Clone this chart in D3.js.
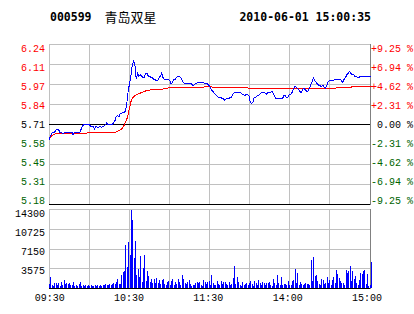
<!DOCTYPE html>
<html><head><meta charset="utf-8">
<script src="https://cdn.jsdelivr.net/npm/d3@7"></script>
<style>
html,body{margin:0;padding:0;background:#fff;}
svg{display:block;}
</style></head><body>
<svg id="c" width="414" height="314"></svg>
<script>
const stockCode = "000599";
const stockName = "青岛双星";
const timestamp = "2010-06-01 15:00:35";
const prevClose = 5.71;
const priceTicks = ["6.24","6.11","5.97","5.84","5.71","5.58","5.45","5.31","5.18"];
const pctTicks = ["+9.25 %","+6.94 %","+4.62 %","+2.31 %"," 0.00 %","-2.31 %","-4.62 %","-6.94 %","-9.25 %"];
const volTicks = [14300, 10725, 7150, 3575];
const timeLabels = ["09:30","10:30","11:30","14:00","15:00"];
const timeLabelMinutes = [0, 60, 120, 180, 240];

const price = [
5.61,5.63,5.65,5.66,5.66,5.67,5.68,5.68,5.66,5.66,
5.65,5.65,5.66,5.66,5.66,5.66,5.66,5.66,5.64,5.66,
5.66,5.66,5.66,5.66,5.68,5.70,5.71,5.71,5.71,5.71,
5.71,5.70,5.70,5.70,5.68,5.70,5.69,5.69,5.70,5.69,
5.70,5.70,5.71,5.72,5.71,5.71,5.71,5.71,5.72,5.73,
5.76,5.77,5.76,5.78,5.78,5.79,5.79,5.80,5.85,5.93,
5.98,6.03,6.10,6.13,6.11,6.01,6.05,6.03,6.04,6.03,
6.02,6.02,6.05,6.05,6.03,6.03,6.02,6.02,6.01,6.01,
6.00,6.00,6.02,6.03,6.05,6.02,6.01,6.01,6.01,6.01,
6.00,5.98,5.99,6.01,6.01,6.02,6.03,6.03,6.02,6.01,
5.99,5.98,5.98,5.98,5.98,5.98,5.98,5.97,5.97,5.98,
5.98,5.99,5.99,5.99,5.99,5.99,5.98,5.98,5.98,5.97,5.96,
5.94,5.93,5.92,5.91,5.90,5.89,5.89,5.89,5.88,5.88,
5.87,5.88,5.88,5.88,5.89,5.89,5.91,5.92,5.92,5.92,
5.92,5.92,5.92,5.91,5.91,5.90,5.91,5.91,5.90,5.86,
5.85,5.86,5.89,5.89,5.90,5.90,5.91,5.92,5.92,5.92,
5.92,5.91,5.92,5.92,5.92,5.93,5.92,5.90,5.88,5.88,
5.88,5.88,5.88,5.88,5.90,5.90,5.89,5.89,5.91,5.91,
5.92,5.94,5.96,5.96,5.95,5.94,5.93,5.92,5.94,5.95,
5.94,5.93,5.93,5.95,5.97,5.99,6.02,6.00,5.99,5.98,
5.97,5.97,5.96,5.97,5.96,5.95,5.97,5.99,6.00,6.00,
6.00,6.00,6.01,6.01,6.01,6.01,6.01,6.00,5.99,6.01,
6.02,6.04,6.05,6.06,6.05,6.04,6.04,6.03,6.03,6.02,
6.02,6.03,6.03,6.03,6.03,6.03,6.03,6.03,6.03,6.03
];

const avgPrice = [
5.610,5.625,5.635,5.642,5.645,5.648,5.650,5.650,5.650,5.650,
5.650,5.650,5.650,5.650,5.650,5.650,5.650,5.650,5.650,5.650,
5.650,5.650,5.650,5.650,5.650,5.650,5.650,5.650,5.650,
5.660,5.660,5.660,5.660,5.660,5.660,5.660,5.660,5.660,5.660,5.660,
5.660,5.660,5.660,5.660,5.660,5.660,5.660,5.660,5.660,5.660,5.660,
5.665,5.670,5.675,5.680,5.690,5.705,5.725,5.745,5.775,5.820,
5.860,5.880,5.893,5.900,5.906,5.910,5.914,5.918,5.922,5.926,
5.929,5.932,5.934,5.936,5.938,5.940,5.941,5.942,5.942,5.943,
5.943,5.944,5.944,5.945,5.945,5.946,5.946,5.947,
5.953,5.953,5.953,5.953,5.953,5.953,5.953,5.953,5.953,5.953,
5.953,5.953,5.953,5.953,5.953,5.953,5.953,5.953,5.953,5.953,
5.953,5.953,5.953,5.953,5.953,5.953,5.953,
5.962,5.962,5.962,5.962,5.962,5.962,
5.953,5.953,5.953,5.953,5.953,5.953,5.953,5.953,5.953,5.953,
5.953,5.953,5.953,5.953,5.953,5.953,5.953,5.953,5.953,5.953,
5.953,5.953,5.953,5.953,5.953,5.953,5.953,
5.947,5.947,5.947,5.947,5.947,5.947,5.947,5.947,5.947,5.947,
5.947,5.947,5.947,5.947,5.947,5.947,5.947,5.947,5.947,5.947,
5.947,5.947,5.947,5.947,5.947,5.947,5.947,5.947,5.947,5.947,
5.947,5.947,5.947,5.947,5.947,5.947,5.947,5.947,5.947,5.947,
5.947,5.947,5.947,5.947,5.947,5.947,5.947,5.947,5.947,5.947,
5.947,5.947,5.947,5.947,5.947,5.947,5.947,5.947,5.947,5.947,
5.947,5.947,5.947,5.947,5.947,
5.953,5.953,5.953,5.953,5.953,5.953,5.953,5.953,5.953,5.953,5.953,5.953,
5.964,5.964,5.964,5.964,5.964,5.964,5.964,5.964,
5.964,5.964,5.964,5.964,5.964,5.964,5.964,5.964
];

const volume = [
700,2000,600,400,900,900,500,900,400,1100,
600,1500,700,900,700,900,500,600,1100,400,
500,300,700,1100,400,600,300,500,400,500,
400,500,400,300,500,400,500,400,600,400,
500,500,700,500,600,700,500,800,900,700,
1100,1700,700,800,2400,2900,3100,7900,3900,8400,
6000,14300,12300,5500,8600,2400,3500,2000,5900,1100,
3700,6000,1300,3100,2200,1100,1600,900,1600,900,
1800,900,1500,700,1500,1600,700,500,1100,1300,
500,1300,1600,600,1100,700,1600,1100,500,2400,
1600,900,700,1100,1500,700,400,500,500,900,
1100,900,1100,500,400,1500,1100,700,1100,1300,500,
2400,900,550,550,1300,700,550,1300,700,1100,
1100,700,500,1100,600,700,1800,4000,700,2000,
1100,550,400,1100,550,700,900,500,900,1300,
700,400,1300,900,500,1500,900,550,1100,900,
500,900,900,1100,550,400,1600,900,500,2400,
900,550,2000,500,700,700,550,1300,550,500,
1300,1500,3500,900,2700,500,1100,700,550,700,
900,700,700,500,5100,1300,5700,2200,2400,1300,
700,500,1600,1500,700,900,2000,900,1500,600,
1500,2000,900,3300,2600,1800,1300,900,900,600,
3300,2700,3100,4000,1300,3100,1600,2200,900,600,
1500,2700,2600,3100,3300,700,2600,400,550,4800
];

const svg = d3.select("#c");
const L = 49, R = 371;
const pTop = 44, pBot = 204;
const vTop = 209, vBot = 288;

const x = d3.scaleLinear().domain([0, 240]).range([L, R]);
const gridX = d3.scaleLinear().domain([0, 8]).range([L, L + 320]);
const yP = d3.scaleLinear().domain([5.18, 6.24]).range([pBot + 0.5, pTop + 0.5]);
const gridYP = d3.scaleLinear().domain([0, 8]).range([pTop + 0.5, pBot + 0.5]);
const labelYP = d3.scaleLinear().domain([0, 8]).range([48, 200]);
const yV = d3.scaleLinear().domain([0, 14300]).range([vBot, vTop + 0.5]);
const gridYV = d3.scaleLinear().domain([0, 4]).range([vTop + 0.5, vBot + 0.5]);
const labelYV = d3.scaleLinear().domain([0, 14300]).range([290, 213.4]);
const xLabel = d3.scaleLinear().domain([0, 240]).range([49.7, 367]);

const grid = "#c0c0c0";
const g = svg.append("g").attr("shape-rendering", "crispEdges");

// vertical gridlines
for (let k = 0; k < 8; k++) {
  const gx = Math.round(gridX(k)) + 0.5;
  g.append("line").attr("x1", gx).attr("x2", gx).attr("y1", pTop).attr("y2", pBot).attr("stroke", grid);
  g.append("line").attr("x1", gx).attr("x2", gx).attr("y1", vTop).attr("y2", vBot).attr("stroke", grid);
}
// horizontal price gridlines
d3.range(9).forEach(k => {
  const gy = Math.floor(gridYP(k)) + 0.5;
  g.append("line").attr("x1", L).attr("x2", R).attr("y1", gy).attr("y2", gy)
    .attr("stroke", (k === 4 || k === 8) ? "#000" : grid);
});
// horizontal volume gridlines
d3.range(5).forEach(k => {
  const gy = Math.floor(gridYV(k)) + 0.5;
  g.append("line").attr("x1", L).attr("x2", R).attr("y1", gy).attr("y2", gy)
    .attr("stroke", k === 4 ? "#000" : grid);
});
// right border
g.append("line").attr("x1", R - 0.5).attr("x2", R - 0.5).attr("y1", pTop).attr("y2", pBot + 1).attr("stroke", "#808080");
g.append("line").attr("x1", R - 0.5).attr("x2", R - 0.5).attr("y1", vTop).attr("y2", vBot + 1).attr("stroke", "#808080");

// volume bars
g.selectAll("rect.v").data(volume).enter().append("rect")
  .attr("x", (d, i) => Math.round(x(i)))
  .attr("width", 1)
  .attr("y", d => Math.round(yV(d)))
  .attr("height", d => Math.max(0, vBot - Math.round(yV(d))))
  .attr("fill", "#0000ff");

// avg line
const line = d3.line().x((d, i) => x(i)).y(d => yP(d));
svg.append("path").datum(avgPrice).attr("d", line)
  .attr("fill", "none").attr("stroke", "#ff0000").attr("stroke-width", 1).attr("shape-rendering", "crispEdges");
svg.append("path").datum(price).attr("d", line)
  .attr("fill", "none").attr("stroke", "#0000ff").attr("stroke-width", 1).attr("shape-rendering", "crispEdges");

// labels
const mono = "'Liberation Mono','Courier New',monospace";
const colorFor = k => k < 4 ? "#ff0000" : (k === 4 ? "#000000" : "#006400");
priceTicks.forEach((t, k) => {
  svg.append("text").attr("x", 45).attr("y", labelYP(k)).attr("dy", "0.35em")
    .attr("text-anchor", "end").attr("font-family", mono).attr("font-size", 10)
    .attr("fill", colorFor(k)).text(t);
});
pctTicks.forEach((t, k) => {
  svg.append("text").attr("x", R).attr("y", labelYP(k)).attr("dy", "0.35em")
    .attr("text-anchor", "start").attr("font-family", mono).attr("font-size", 10)
    .attr("fill", colorFor(k)).attr("xml:space", "preserve").style("white-space", "pre").text(t);
});
volTicks.forEach(v => {
  svg.append("text").attr("x", 45).attr("y", labelYV(v)).attr("dy", "0.35em")
    .attr("text-anchor", "end").attr("font-family", mono).attr("font-size", 10)
    .attr("fill", "#000").text(v);
});
timeLabels.forEach((t, k) => {
  svg.append("text").attr("x", xLabel(timeLabelMinutes[k])).attr("y", 301)
    .attr("text-anchor", "middle").attr("font-family", mono).attr("font-size", 10)
    .attr("fill", "#000").text(t);
});

// title
svg.append("text").attr("x", 50).attr("y", 20.7).attr("font-family", "'DejaVu Sans Mono',monospace")
  .attr("font-weight", "bold").attr("font-size", 11.5).attr("fill", "#000").text(stockCode);
svg.append("text").attr("x", 104.5).attr("y", 21.5).attr("font-family", "'Noto Sans CJK SC',sans-serif")
  .attr("font-size", 13).attr("fill", "#000").text(stockName);
svg.append("text").attr("x", 371).attr("y", 20.7).attr("text-anchor", "end").attr("font-family", "'DejaVu Sans Mono',monospace")
  .attr("font-weight", "bold").attr("font-size", 11.5).attr("fill", "#000").text(timestamp);
</script>
</body></html>
